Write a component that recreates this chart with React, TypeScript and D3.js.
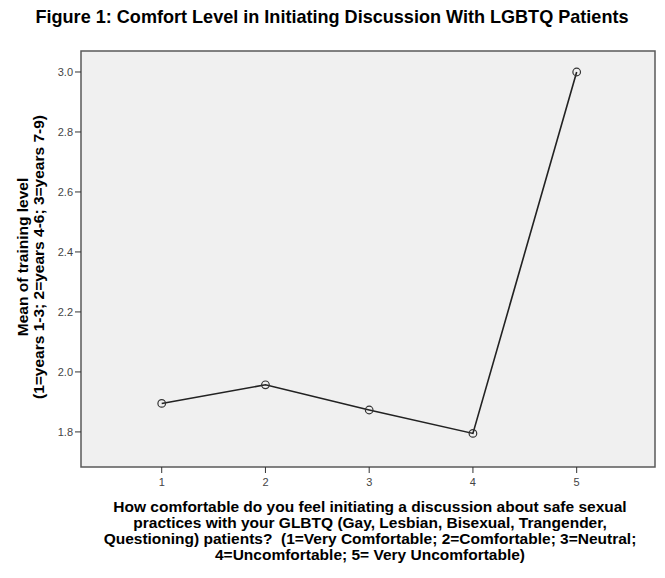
import React from "react";
import * as d3 from "d3";

const categories = [1, 2, 3, 4, 5];
const meanValues = [1.895, 1.957, 1.873, 1.795, 3.0];
const yTicks = [1.8, 2.0, 2.2, 2.4, 2.6, 2.8, 3.0];
const xTicks = [1, 2, 3, 4, 5];

const title = "Figure 1: Comfort Level in Initiating Discussion With LGBTQ Patients";
const yLabelLines = ["Mean of training level", "(1=years 1-3; 2=years 4-6; 3=years 7-9)"];
const xLabelLines = [
  "How comfortable do you feel initiating a discussion about safe sexual",
  "practices with your GLBTQ (Gay, Lesbian, Bisexual, Trangender,",
  "Questioning) patients?  (1=Very Comfortable; 2=Comfortable; 3=Neutral;",
  "4=Uncomfortable; 5= Very Uncomfortable)",
];

const W = 665;
const H = 578;
const plot = { left: 81, top: 51, right: 655, bottom: 467 };

export default function App() {
  const x = d3.scaleLinear().domain([0.222, 5.755]).range([plot.left, plot.right]);
  const y = d3.scaleLinear().domain([1.683, 3.07]).range([plot.bottom, plot.top]);
  const pts = categories.map((c, i) => [x(c), y(meanValues[i])] as [number, number]);
  const line = d3.line()(pts) || "";
  const font = "'Liberation Sans', Arial, sans-serif";
  const cy = (plot.top + plot.bottom) / 2;
  return (
    <svg width={W} height={H} style={{ position: "absolute", left: 0, top: 0, background: "#fff" }}>
      <text
        x={332}
        y={23}
        textAnchor="middle"
        fontFamily="'Liberation Sans Narrow', 'Liberation Sans', Arial, sans-serif"
        fontWeight="bold"
        fontSize={18.5}
        textLength={593}
        lengthAdjust="spacingAndGlyphs"
        fill="#000"
      >
        {title}
      </text>
      <rect
        x={plot.left}
        y={plot.top}
        width={plot.right - plot.left}
        height={plot.bottom - plot.top}
        fill="#f0f0f0"
        stroke="#5a5a5a"
        strokeWidth={1.5}
      />
      {yTicks.map((t) => (
        <g key={"y" + t}>
          <line x1={plot.left - 6} x2={plot.left} y1={y(t)} y2={y(t)} stroke="#333" strokeWidth={1} />
          <text x={plot.left - 8} y={y(t) + 4} textAnchor="end" fontFamily={font} fontSize={11} fill="#444">
            {t.toFixed(1)}
          </text>
        </g>
      ))}
      {xTicks.map((t) => (
        <g key={"x" + t}>
          <line x1={x(t)} x2={x(t)} y1={plot.bottom} y2={plot.bottom + 6} stroke="#333" strokeWidth={1} />
          <text x={x(t)} y={plot.bottom + 19} textAnchor="middle" fontFamily={font} fontSize={11} fill="#444">
            {t}
          </text>
        </g>
      ))}
      <path d={line} fill="none" stroke="#222" strokeWidth={1.6} />
      {pts.map((p, i) => (
        <circle key={i} cx={p[0]} cy={p[1]} r={3.8} fill="none" stroke="#333" strokeWidth={1.2} />
      ))}
      {yLabelLines.map((l, i) => (
        <text
          key={l}
          transform={`translate(${28 + i * 16},${cy - 2}) rotate(-90)`}
          textAnchor="middle"
          fontFamily={font}
          fontWeight="bold"
          fontSize={15.5}
          fill="#000"
        >
          {l}
        </text>
      ))}
      {xLabelLines.map((l, i) => (
        <text
          key={l}
          x={370}
          y={512 + i * 16}
          textAnchor="middle"
          fontFamily={font}
          fontWeight="bold"
          fontSize={15.5}
          fill="#000"
          style={{ whiteSpace: "pre" }}
        >
          {l}
        </text>
      ))}
    </svg>
  );
}
